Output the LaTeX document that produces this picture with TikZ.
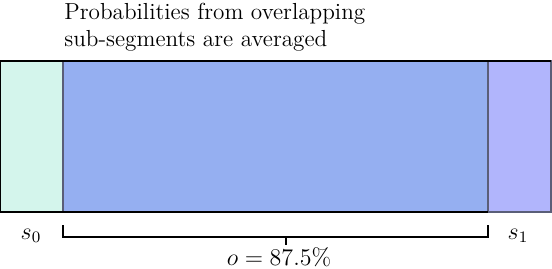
\documentclass[tikz,border=0pt]{standalone}
\usetikzlibrary{positioning}

\definecolor{menta}{HTML}{D4F5EC}
\definecolor{blu}{HTML}{95AFF1}
\definecolor{lavanda}{HTML}{B1B5FC}
\definecolor{bordo}{HTML}{5A5E78}

\begin{document}
\begin{tikzpicture}[
    x=0.5pt,y=-0.5pt,
    font=\fontsize{11.6}{13.5}\selectfont,
    seg/.style={draw=bordo,line width=0.6pt,inner sep=0pt,outer sep=0pt,
                minimum height=75.5pt,anchor=north west},
    lab/.style={inner sep=1pt},
    mat/.style={inner sep=1pt,font=\fontsize{12.5}{14}\selectfont},
  ]
  \useasboundingbox (0,0) rectangle (552,268);

  % ---- i tre segmenti ---------------------------------------------------------
  \node[seg,fill=menta,minimum width=31.5pt] (s0) at (0,61) {};
  \node[seg,fill=blu,minimum width=212.5pt,right=0pt of s0] (main) {};
  \node[seg,fill=lavanda,minimum width=31.5pt,right=0pt of main] (s1) {};

  % ---- il bordo esterno --------------------------------------------------------
  \draw[line width=0.8pt] (s0.north west) -- (s1.north east);
  \draw[line width=0.8pt] (s0.north west) -- (s0.south west) -- (main.south east);

  % ---- testo in alto ----------------------------------------------------------
  \node[lab,anchor=north west,align=left] (nota) at (62,1)
    {Probabilities from overlapping\\sub-segments are averaged};

  % ---- etichette dei segmenti laterali ----------------------------------------
  \node[mat,font=\fontsize{11.5}{14}\selectfont,anchor=base] (l0) at (31,239) {$s_0$};
  \node[mat,font=\fontsize{11.5}{14}\selectfont,anchor=base] (l1) at (518,239) {$s_1$};

  % ---- la parentesi sotto la parte sovrapposta -------------------------------
  \draw[line width=0.9pt]
    ([yshift=-6.5pt]main.south west) |- ([yshift=-12.5pt]main.south)
    -| ([yshift=-6.5pt]main.south east);
  \draw[line width=0.9pt] ([xshift=5.25pt,yshift=-12.5pt]main.south)
    -- ++(0pt,-4pt);
  \node[mat,anchor=base] (o) at (279,265) {$o = 87.5\%$};

\end{tikzpicture}
\end{document}
